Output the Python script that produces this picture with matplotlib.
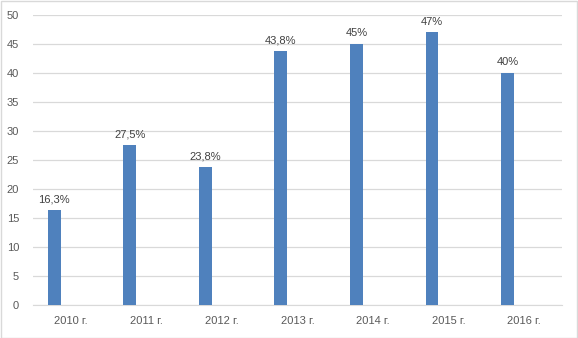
import matplotlib
matplotlib.use("Agg")
import matplotlib.pyplot as plt
from matplotlib.patches import Rectangle

years = ["2010 г.", "2011 г.", "2012 г.", "2013 г.", "2014 г.", "2015 г.", "2016 г."]
values = [16.3, 27.5, 23.8, 43.8, 45, 47, 40]
labels = ["16,3%", "27,5%", "23,8%", "43,8%", "45%", "47%", "40%"]
yticks = [0, 5, 10, 15, 20, 25, 30, 35, 40, 45, 50]

plt.rcParams['font.family'] = ['Liberation Sans', 'DejaVu Sans']
text_col = '#595959'
bar_col = '#4F81BD'

W, H = 578, 338
fig = plt.figure(figsize=(W / 100, H / 100), dpi=100)
ax = fig.add_axes([33 / W, 33 / H, (562 - 33) / W, (305 - 15) / H])

x = list(range(len(years)))
bx = [i - 0.22 for i in x]
ax.bar(bx, values, width=0.17, color=bar_col, zorder=3)
for xi, v, lab in zip(bx, values, labels):
    ax.text(xi, v + 1.0, lab, ha='center', va='bottom', fontsize=8, color='#404040')

ax.set_xlim(-0.5, len(years) - 0.5)
ax.set_ylim(0, 50)
ax.set_yticks(yticks)
ax.set_xticks(x)
ax.set_xticklabels(years)
ax.tick_params(axis='both', length=0, labelsize=8, colors=text_col)
ax.tick_params(axis='x', pad=8)
ax.tick_params(axis='y', pad=10)
ax.grid(axis='y', color='#D9D9D9', linewidth=0.9, zorder=0)
for s in ['top', 'right', 'left']:
    ax.spines[s].set_visible(False)
ax.spines['bottom'].set_color('#D9D9D9')

fig.patches.append(Rectangle((0.5 / W, 0.5 / H), 1 - 1.5 / W, 1 - 1.5 / H,
                             transform=fig.transFigure, fill=False,
                             edgecolor='#D9D9D9', linewidth=1))

fig.savefig("out.png", dpi=100)
